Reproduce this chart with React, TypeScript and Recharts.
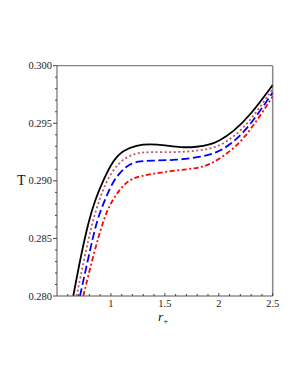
import React from 'react';
import { LineChart, Line, XAxis, YAxis, ReferenceLine } from 'recharts';

const xTicks = [0.6, 0.7, 0.8, 0.9, 1, 1.1, 1.2, 1.3, 1.4, 1.5, 1.6, 1.7, 1.8, 1.9, 2, 2.1, 2.2, 2.3, 2.4, 2.5];
const xMajor = [1, 1.5, 2, 2.5];
const yTicks = [0.28, 0.281, 0.282, 0.283, 0.284, 0.285, 0.286, 0.287, 0.288, 0.289, 0.29, 0.291, 0.292, 0.293, 0.294, 0.295, 0.296, 0.297, 0.298, 0.299, 0.3];
const yMajor = [0.28, 0.285, 0.29, 0.295, 0.3];

const solidR = [0.651, 0.722, 0.796, 0.852, 0.929, 1.021, 1.114, 1.238, 1.361, 1.5, 1.648, 1.796, 1.92, 2.0, 2.132, 2.287, 2.5];
const solidT = [0.28, 0.28354, 0.28658, 0.28832, 0.29006, 0.2918, 0.29267, 0.2931, 0.29321, 0.2931, 0.29289, 0.29293, 0.29315, 0.29345, 0.29424, 0.29563, 0.29832];

const dotR = [0.682, 0.753, 0.831, 0.892, 0.96, 1.083, 1.238, 1.361, 1.611, 1.824, 1.979, 2.132, 2.287, 2.5];
const dotT = [0.28, 0.28328, 0.28658, 0.28832, 0.29006, 0.2918, 0.29245, 0.2925, 0.29247, 0.29263, 0.29289, 0.29374, 0.29514, 0.29797];

const dashR = [0.713, 0.79, 0.868, 0.944, 1.021, 1.145, 1.253, 1.361, 1.611, 1.824, 1.979, 2.132, 2.287, 2.5];
const dashT = [0.28, 0.28328, 0.28658, 0.28832, 0.29006, 0.29137, 0.29171, 0.29176, 0.2918, 0.29206, 0.29241, 0.2933, 0.29476, 0.29767];

const dashDotR = [0.744, 0.836, 0.929, 1.006, 1.148, 1.269, 1.481, 1.793, 1.917, 2.132, 2.287, 2.5];
const dashDotT = [0.28, 0.28354, 0.28658, 0.28832, 0.29006, 0.29041, 0.29078, 0.29108, 0.29137, 0.29269, 0.29427, 0.29732];

const zip = (rs: number[], ts: number[]) => rs.map((r, i) => ({ r, T: ts[i] }));

const series = [
  { name: 'a', data: zip(solidR, solidT), color: '#000000', dash: undefined as string | undefined },
  { name: 'b', data: zip(dotR, dotT), color: '#b85a5a', dash: '2 2.5' },
  { name: 'c', data: zip(dashR, dashT), color: '#0000ff', dash: '8 3.5' },
  { name: 'd', data: zip(dashDotR, dashDotT), color: '#ff0000', dash: '5 2.5 2 2.5' },
];

const isMajor = (v: number, list: number[]) => list.some((m) => Math.abs(m - v) < 1e-9);

const YTick = (props: any) => {
  const { x, y, payload } = props;
  const major = isMajor(payload.value, yMajor);
  return (
    <g>
      <line x1={x} x2={x - (major ? 4 : 2)} y1={y} y2={y} stroke="#444" strokeWidth={1} />
      {major && (
        <text x={x - 5} y={y + 3.5} textAnchor="end" fontSize={10.5} fontFamily="Liberation Serif" fill="#222">
          {payload.value.toFixed(3)}
        </text>
      )}
    </g>
  );
};

const XTick = (props: any) => {
  const { x, y, payload } = props;
  const major = isMajor(payload.value, xMajor);
  return (
    <g>
      <line x1={x} x2={x} y1={y} y2={y - (major ? 3 : 2)} stroke="#444" strokeWidth={1} />
      {major && (
        <text x={x} y={y + 10.5} textAnchor="middle" fontSize={10.5} fontFamily="Liberation Serif" fill="#222">
          {String(payload.value)}
        </text>
      )}
    </g>
  );
};

export default function App() {
  return (
    <div style={{ position: 'absolute', left: 0, top: 0, width: 300, height: 388 }}>
      <LineChart width={300} height={388} margin={{ top: 65.7, right: 27.3, left: 0, bottom: 62 }}>
        <XAxis
          type="number"
          dataKey="r"
          domain={[0.5, 2.5]}
          ticks={xTicks}
          allowDataOverflow
          height={30}
          tickSize={0}
          tickMargin={0}
          tickLine={false}
          tick={<XTick />}
          stroke="#555"
          interval={0}
        />
        <YAxis
          type="number"
          dataKey="T"
          domain={[0.28, 0.3]}
          ticks={yTicks}
          allowDataOverflow
          width={57}
          tickSize={0}
          tickMargin={0}
          tickLine={false}
          tick={<YTick />}
          stroke="#555"
          interval={0}
        />
        <ReferenceLine y={0.3} stroke="#666" strokeWidth={1} ifOverflow="extendDomain" />
        <ReferenceLine x={2.5} stroke="#888" strokeWidth={1.5} ifOverflow="extendDomain" />
        {series.map((s) => (
          <Line
            key={s.name}
            data={s.data}
            dataKey="T"
            type="basis"
            stroke={s.color}
            strokeWidth={1.8}
            strokeDasharray={s.dash}
            dot={false}
            activeDot={false}
            isAnimationActive={false}
          />
        ))}
      </LineChart>
      <div style={{ position: 'absolute', left: 17, top: 173, fontFamily: 'Liberation Serif', fontSize: 14, color: '#111' }}>T</div>
      <div style={{ position: 'absolute', left: 158, top: 310, lineHeight: '13px', fontFamily: 'Liberation Serif', fontSize: 13.5, color: '#111', fontStyle: 'italic', whiteSpace: 'nowrap' }}>
        r<span style={{ fontStyle: 'normal', fontSize: 9, position: 'relative', top: 3, lineHeight: '9px' }}>+</span>
      </div>
    </div>
  );
}
